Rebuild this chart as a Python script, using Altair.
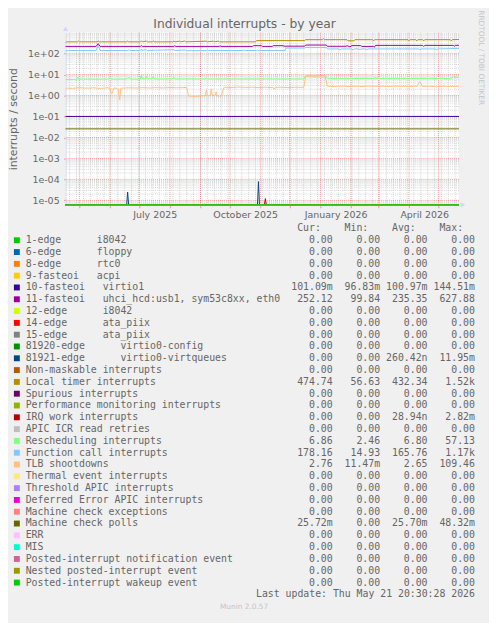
import altair as alt
import numpy as np
import pandas as pd

NBSP = "\u00a0"

# ---------------- data ----------------
START = "2025-04-16 20:30:28"
END = "2026-05-21 20:30:28"

LABELS = [
    "1-edge      i8042",
    "6-edge      floppy",
    "8-edge      rtc0",
    "9-fasteoi   acpi",
    "10-fasteoi   virtio1",
    "11-fasteoi   uhci_hcd:usb1, sym53c8xx, eth0",
    "12-edge      i8042",
    "14-edge      ata_piix",
    "15-edge      ata_piix",
    "81920-edge      virtio0-config",
    "81921-edge      virtio0-virtqueues",
    "Non-maskable interrupts",
    "Local timer interrupts",
    "Spurious interrupts",
    "Performance monitoring interrupts",
    "IRQ work interrupts",
    "APIC ICR read retries",
    "Rescheduling interrupts",
    "Function call interrupts",
    "TLB shootdowns",
    "Thermal event interrupts",
    "Threshold APIC interrupts",
    "Deferred Error APIC interrupts",
    "Machine check exceptions",
    "Machine check polls",
    "ERR",
    "MIS",
    "Posted-interrupt notification event",
    "Nested posted-interrupt event",
    "Posted-interrupt wakeup event",
]
COLORS = ["#00CC00", "#0066B3", "#FF8000", "#FFCC00", "#330099", "#990099",
          "#CCFF00", "#FF0000", "#808080", "#008F00", "#00487D", "#B35A00",
          "#B38F00", "#6B006B", "#8FB300", "#B30000", "#BEBEBE", "#80FF80",
          "#80C9FF", "#FFC080", "#FFE680", "#AA80FF", "#EE00CC", "#FF8080",
          "#666600", "#FFBFFF", "#00FFCC", "#CC6699", "#999900", "#00CC00"]

CUR = [0, 0, 0, 0, 0.10109, 252.12, 0, 0, 0, 0, 0, 0, 474.74, 0, 0, 0, 0,
       6.86, 178.16, 2.76, 0, 0, 0, 0, 0.02572, 0, 0, 0, 0, 0]
MIN = [0, 0, 0, 0, 0.09683, 99.84, 0, 0, 0, 0, 0, 0, 56.63, 0, 0, 0, 0,
       2.46, 14.93, 0.01147, 0, 0, 0, 0, 0, 0, 0, 0, 0, 0]
AVG = [0, 0, 0, 0, 0.10097, 235.35, 0, 0, 0, 0, 260.42e-9, 0, 432.34, 0, 0,
       28.94e-9, 0, 6.80, 165.76, 2.65, 0, 0, 0, 0, 0.02570, 0, 0, 0, 0, 0]
MAX = [0, 0, 0, 0, 0.14451, 627.88, 0, 0, 0, 0, 0.01195, 0, 1520, 0, 0,
       0.00282, 0, 57.13, 1170, 109.46, 0, 0, 0, 0, 0.04832, 0, 0, 0, 0, 0]

# Local timer interrupts
TIMER_DATES = ["2025-04-16 20:30", "2025-04-18", "2025-04-29", "2025-04-30", "2025-05-01",
               "2025-05-19", "2025-05-20", "2025-05-21", "2025-06-18", "2025-06-19",
               "2025-06-20", "2025-07-02", "2025-07-03", "2025-07-04", "2025-07-08",
               "2025-07-09", "2025-07-14", "2025-07-15", "2025-07-16", "2025-08-04",
               "2025-08-05", "2025-08-06", "2025-08-11", "2025-08-12", "2025-08-16",
               "2025-08-17", "2025-09-07", "2025-09-08", "2025-09-14", "2025-09-15",
               "2025-09-19", "2025-09-20", "2025-10-27", "2025-10-28", "2025-12-16",
               "2025-12-17", "2026-01-03", "2026-01-04", "2026-01-05", "2026-01-28",
               "2026-01-29", "2026-02-04", "2026-02-05", "2026-02-23", "2026-02-24",
               "2026-02-25", "2026-03-31", "2026-04-01", "2026-04-02", "2026-04-08",
               "2026-04-09", "2026-04-10", "2026-04-15", "2026-04-16", "2026-04-17",
               "2026-05-13", "2026-05-14", "2026-05-15", "2026-05-21 20:30"]
TIMER_VALUES = [330, 365, 365, 400, 365,
                365, 405, 365, 365, 395,
                365, 365, 410, 365, 400,
                365, 365, 400, 365, 365,
                400, 365, 395, 365, 400,
                365, 395, 365, 395, 365,
                395, 365, 365, 420, 420,
                465, 465, 520, 465, 465,
                410, 410, 465, 465, 410,
                465, 465, 410, 465, 465,
                410, 465, 465, 410, 465,
                465, 410, 465, 474.74]

# 11-fasteoi uhci_hcd:usb1, sym53c8xx, eth0
IRQ11_DATES = ["2025-04-16 20:30", "2025-05-18", "2025-05-20", "2025-05-22", "2025-07-02",
               "2025-07-03", "2025-07-04", "2025-08-05", "2025-08-06", "2025-08-07",
               "2025-09-20", "2025-09-21", "2025-09-22", "2025-10-24", "2025-10-25",
               "2025-11-02", "2025-11-03", "2025-11-13", "2025-11-14", "2025-11-24",
               "2025-11-25", "2025-12-16", "2025-12-17", "2026-01-07", "2026-01-08",
               "2026-01-27", "2026-01-28", "2026-01-31", "2026-02-02", "2026-02-11",
               "2026-02-12", "2026-02-24", "2026-02-25", "2026-02-26", "2026-04-15",
               "2026-04-16", "2026-04-17", "2026-05-16", "2026-05-17", "2026-05-18",
               "2026-05-21 20:30"]
IRQ11_VALUES = [222, 222, 300, 222, 222,
                240, 222, 222, 238, 222,
                222, 236, 222, 222, 240,
                240, 222, 222, 240, 240,
                228, 228, 258, 258, 225,
                225, 242, 210, 242, 242,
                222, 222, 205, 248, 248,
                222, 248, 248, 225, 248,
                252.12]

# Function call interrupts
FCALL_DATES = ["2025-04-16 20:30", "2025-04-20", "2025-05-18", "2025-05-20", "2025-05-22",
               "2025-06-19", "2025-06-20", "2025-06-21", "2025-07-02", "2025-07-03",
               "2025-07-04", "2025-07-08", "2025-07-09", "2025-08-05", "2025-08-06",
               "2025-08-17", "2025-08-18", "2025-09-07", "2025-09-08", "2025-09-09",
               "2025-10-15", "2025-10-16", "2025-10-17", "2025-10-28", "2025-10-29",
               "2025-10-30", "2025-11-26", "2025-11-27", "2025-12-16", "2025-12-17",
               "2026-01-07", "2026-01-08", "2026-01-20", "2026-01-21", "2026-01-22",
               "2026-02-02", "2026-02-03", "2026-02-04", "2026-02-09", "2026-02-10",
               "2026-02-11", "2026-02-16", "2026-02-17", "2026-02-18", "2026-04-11",
               "2026-04-12", "2026-04-13", "2026-04-28", "2026-04-29", "2026-04-30",
               "2026-05-21 20:30"]
FCALL_VALUES = [136, 142, 142, 255, 142,
                142, 152, 142, 142, 165,
                142, 155, 142, 155, 142,
                150, 138, 140, 155, 142,
                142, 152, 142, 142, 152,
                142, 142, 185, 185, 195,
                195, 168, 168, 150, 168,
                168, 150, 168, 168, 150,
                168, 168, 150, 168, 168,
                150, 168, 168, 150, 168,
                178.16]

# Rescheduling interrupts
RESCHED_DATES = ["2025-04-16 20:30", "2025-04-27", "2025-04-28", "2025-04-29", "2025-04-30",
                 "2025-05-31", "2025-06-01", "2025-06-02", "2025-06-18", "2025-06-19",
                 "2025-06-21", "2025-06-22", "2025-07-02", "2025-07-03", "2025-07-04",
                 "2025-07-07", "2025-07-08", "2025-07-09", "2025-07-14", "2025-07-15",
                 "2025-07-16", "2025-08-04", "2025-08-05", "2025-08-06", "2025-09-06",
                 "2025-09-07", "2025-09-08", "2025-12-15", "2025-12-17", "2026-01-06",
                 "2026-01-08", "2026-02-25", "2026-02-26", "2026-02-27", "2026-05-13",
                 "2026-05-16", "2026-05-21 20:30"]
RESCHED_VALUES = [5.8, 5.8, 5.2, 7.5, 6.1,
                  6.1, 7.2, 6.1, 6.1, 7.0,
                  7.2, 6.1, 6.1, 10.0, 6.3,
                  6.3, 8.2, 6.3, 6.3, 8.0,
                  6.2, 6.2, 7.4, 6.2, 6.2,
                  7.0, 6.2, 6.2, 8.9, 8.9,
                  6.6, 6.6, 7.6, 6.6, 6.6,
                  7.6, 7.4]

# TLB shootdowns
TLB_DATES = ["2025-04-16 20:30", "2025-04-18", "2025-04-24", "2025-05-01", "2025-05-08",
             "2025-05-15", "2025-05-22", "2025-05-29", "2025-06-01", "2025-06-02",
             "2025-06-03", "2025-06-05", "2025-06-09", "2025-06-11", "2025-06-12",
             "2025-06-20", "2025-06-27", "2025-07-04", "2025-07-11", "2025-07-18",
             "2025-07-25", "2025-08-01", "2025-08-08", "2025-08-15", "2025-08-18",
             "2025-08-20", "2025-08-27", "2025-09-03", "2025-09-06", "2025-09-07",
             "2025-09-08", "2025-09-11", "2025-09-12", "2025-09-13", "2025-09-16",
             "2025-09-17", "2025-09-18", "2025-09-22", "2025-09-25", "2025-10-02",
             "2025-10-09", "2025-10-16", "2025-10-23", "2025-10-30", "2025-11-06",
             "2025-11-14", "2025-11-15", "2025-11-16", "2025-11-23", "2025-11-30",
             "2025-12-07", "2025-12-15", "2025-12-17", "2026-01-06", "2026-01-08",
             "2026-01-15", "2026-01-22", "2026-01-29", "2026-02-05", "2026-02-12",
             "2026-02-19", "2026-02-26", "2026-03-05", "2026-03-12", "2026-03-19",
             "2026-03-26", "2026-04-02", "2026-04-09", "2026-04-12", "2026-04-15",
             "2026-04-22", "2026-04-29", "2026-05-06", "2026-05-13", "2026-05-21 20:30"]
TLB_VALUES = [2.1, 2.3, 2.2, 2.4, 2.25,
              2.35, 2.2, 2.35, 2.3, 1.3,
              1.25, 2.3, 2.2, 0.62, 2.25,
              2.35, 2.3, 2.4, 2.3, 2.4,
              2.3, 2.45, 2.35, 2.4, 2.45,
              0.95, 0.9, 1.0, 0.95, 1.9,
              1.0, 1.0, 2.1, 1.05, 1.0,
              1.5, 0.95, 0.95, 2.5, 2.4,
              2.55, 2.45, 2.5, 2.4, 2.5,
              2.4, 2.0, 2.45, 2.5, 2.4,
              2.5, 2.45, 8.0, 7.6, 2.8,
              2.7, 2.85, 2.7, 2.8, 2.7,
              2.85, 2.75, 2.8, 2.7, 2.8,
              2.75, 2.7, 2.8, 4.6, 2.7,
              2.8, 2.6, 2.8, 2.7, 2.76]

# 10-fasteoi virtio1 and Machine check polls (flat)
VIRTIO1_DATES = [START, END]
VIRTIO1_VALUES = [0.101, 0.101]
MCPOLL_DATES = [START, END]
MCPOLL_VALUES = [0.0257, 0.0257]

# 81921-edge virtio0-virtqueues (two short spikes)
VQ_DATES = [START, "2025-06-18", "2025-06-19", "2025-06-20",
            "2025-10-29", "2025-10-30", "2025-10-31", END]
VQ_VALUES = [0, 0, 2.45e-5, 0, 0, 7.8e-5, 0, 0]

# IRQ work interrupts (one spike)
IRQWORK_DATES = [START, "2025-11-05", "2025-11-06", "2025-11-07", END]
IRQWORK_VALUES = [0, 0, 1.2e-5, 0, 0]

ZERO_DATES = [START, END]
ZERO_VALUES = [0, 0]

SERIES = {
    4: (VIRTIO1_DATES, VIRTIO1_VALUES),
    5: (IRQ11_DATES, IRQ11_VALUES),
    10: (VQ_DATES, VQ_VALUES),
    12: (TIMER_DATES, TIMER_VALUES),
    15: (IRQWORK_DATES, IRQWORK_VALUES),
    17: (RESCHED_DATES, RESCHED_VALUES),
    18: (FCALL_DATES, FCALL_VALUES),
    19: (TLB_DATES, TLB_VALUES),
    24: (MCPOLL_DATES, MCPOLL_VALUES),
}

LAST_UPDATE = "Last update: Thu May 21 20:30:28 2026"
TITLE = "Individual interrupts - by year"
Y_TITLE = "interrupts / second"
WATERMARK = "RRDTOOL / TOBI OETIKER"
FOOTER = "Munin 2.0.57"

# ---------------- layout / style ----------------
W, H = 400, 175
DEC = 21.3                       # px per decade
YMAX = 1000.0
YMIN = 10 ** (3 - H / DEC)
FONT = "#666666"
AXISC = "#CFD6F8"
SANS = "DejaVu Sans"
MONO = "DejaVu Sans Mono"
CH = 6.02                        # mono char width at 10px


def to_dt(values):
    return pd.to_datetime(pd.Series(values), format="mixed")


def dt(ts):
    t = pd.Timestamp(ts)
    return alt.DateTime(year=t.year, month=t.month, date=t.day,
                        hours=t.hour, minutes=t.minute, seconds=t.second)


def xs():
    return alt.Scale(domain=[dt(START), dt(END)])


def ys():
    return alt.Scale(type="log", domain=[YMIN, YMAX], nice=False)


months = pd.date_range("2025-05-01", "2026-05-01", freq="MS")
weeks = pd.date_range("2025-04-21", "2026-05-18", freq="7D")
decades = [10.0 ** d for d in range(-5, 3)]
minors = [k * 10.0 ** d for d in range(-6, 3) for k in range(2, 10)
          if YMIN <= k * 10.0 ** d <= YMAX]

x_axis = alt.Axis(
    orient="bottom",
    values=[dt(m) for m in months],
    labelExpr="month(datum.value) % 3 == 0 ? timeFormat(datum.value, '%B %Y') : ''",
    labelOffset=15.5, labelOverlap=False, labelFlush=False,
    labelFont=SANS, labelFontSize=9.6, labelColor=FONT, labelPadding=2,
    tickSize=3, tickColor="#FF0000", tickOpacity=0.4,
    domainColor=AXISC, grid=False, title=None)

y_axis = alt.Axis(
    orient="left",
    values=decades,
    labelExpr="(datum.value >= 1 ? '1e+0' : '1e-0') + abs(round(log(datum.value) / LN10))",
    labelOverlap=False, labelFont=SANS, labelFontSize=9.6, labelColor=FONT,
    labelPadding=4.5, tickSize=2, tickColor="#FF0000", tickOpacity=0.4,
    domainColor=AXISC, grid=False,
    title=Y_TITLE, titleFont=SANS, titleFontSize=11, titleFontWeight="normal",
    titleColor=FONT, titleX=-52.5, titleY=H / 2, titleAngle=270,
    titleAlign="center", titleBaseline="middle")

layers = []

layers.append(alt.Chart(pd.DataFrame({"date": weeks})).mark_rule(
    color="#BABABA", opacity=0.6, strokeDash=[1, 1], strokeWidth=1
).encode(x=alt.X("date:T", scale=xs(), axis=x_axis)))

layers.append(alt.Chart(pd.DataFrame({"v": minors})).mark_rule(
    color="#BABABA", opacity=0.6, strokeDash=[1, 1], strokeWidth=1
).encode(y=alt.Y("v:Q", scale=ys(), axis=y_axis)))

layers.append(alt.Chart(pd.DataFrame({"date": months})).mark_rule(
    color="#FF0000", opacity=0.38, strokeDash=[1, 1], strokeWidth=1
).encode(x=alt.X("date:T", scale=xs(), axis=None)))

layers.append(alt.Chart(pd.DataFrame({"v": decades})).mark_rule(
    color="#FF0000", opacity=0.38, strokeDash=[1, 1], strokeWidth=1
).encode(y=alt.Y("v:Q", scale=ys(), axis=None)))

for i, color in enumerate(COLORS):
    dates, vals = SERIES.get(i, (ZERO_DATES, ZERO_VALUES))
    df = pd.DataFrame({"date": to_dt(dates).values, "value": vals})
    df["plotted"] = np.maximum(df["value"], YMIN)
    layers.append(
        alt.Chart(df).mark_line(color=color, strokeWidth=1).encode(
            x=alt.X("date:T", scale=xs(), axis=None),
            y=alt.Y("plotted:Q", scale=ys(), axis=None),
        )
    )

arrow_df = pd.DataFrame({
    "date": [pd.Timestamp(START), pd.Timestamp(END) + pd.Timedelta(days=4)],
    "v": [10 ** (3 + 4 / DEC), YMIN],
    "shape": ["triangle-up", "triangle-right"],
})
layers.append(alt.Chart(arrow_df).mark_point(filled=True, size=28, color=AXISC, opacity=1).encode(
    x=alt.X("date:T", scale=xs(), axis=None),
    y=alt.Y("v:Q", scale=ys(), axis=None),
    shape=alt.Shape("shape:N", scale=None),
))

# ---------------- legend / annotations ----------------


def rrd_fmt(v):
    if v == 0:
        return "0.00" + NBSP
    e = int(np.floor(np.log10(abs(v)) / 3) * 3)
    prefix = {-9: "n", -6: "u", -3: "m", 0: NBSP, 3: "k"}[e]
    return f"{v / 10.0 ** e:.2f}{prefix}"


ROW0 = 199.0      # header row centre, px below plot top
ROWH = 12.0
X_BOX = -49.5
X_NAME = -40.5
EDGES = [271.6, 319.8, 368.0, 416.2]


def axs():
    return alt.Scale(domain=[0, W], nice=False, zero=False)


def ays():
    return alt.Scale(domain=[0, H], reverse=True, nice=False, zero=False)


leg = pd.DataFrame({
    "label": [s.replace(" ", NBSP) for s in LABELS],
    "color": COLORS,
    "y": [ROW0 + ROWH * (k + 1) for k in range(len(LABELS))],
})
leg["xb"] = X_BOX
leg["xn"] = X_NAME

cells = []
for k in range(len(LABELS)):
    for j, col in enumerate([CUR, MIN, AVG, MAX]):
        cells.append({"x": EDGES[j], "y": ROW0 + ROWH * (k + 1), "t": rrd_fmt(col[k])})
for j, h in enumerate(["Cur:", "Min:", "Avg:", "Max:"]):
    cells.append({"x": EDGES[j] - 2 * CH, "y": ROW0, "t": h})
cells.append({"x": EDGES[3], "y": ROW0 + ROWH * (len(LABELS) + 1), "t": LAST_UPDATE})
cells_df = pd.DataFrame(cells)

layers.append(alt.Chart(leg).mark_square(size=36, opacity=1).encode(
    x=alt.X("xb:Q", scale=axs(), axis=None),
    y=alt.Y("y:Q", scale=ays(), axis=None),
    color=alt.Color("color:N", scale=None),
))
layers.append(alt.Chart(leg).mark_text(align="left", baseline="middle", font=MONO,
                                       fontSize=10, color=FONT).encode(
    x=alt.X("xn:Q", scale=axs(), axis=None),
    y=alt.Y("y:Q", scale=ays(), axis=None),
    text="label:N",
))
layers.append(alt.Chart(cells_df).mark_text(align="right", baseline="middle", font=MONO,
                                            fontSize=10, color=FONT).encode(
    x=alt.X("x:Q", scale=axs(), axis=None),
    y=alt.Y("y:Q", scale=ays(), axis=None),
    text="t:N",
))

title_df = pd.DataFrame({"x": [182.0], "y": [-4.9], "t": [TITLE]})
layers.append(alt.Chart(title_df).mark_text(align="center", baseline="alphabetic", font=SANS,
                                            fontSize=12.5, color=FONT).encode(
    x=alt.X("x:Q", scale=axs(), axis=None),
    y=alt.Y("y:Q", scale=ays(), axis=None),
    text="t:N",
))
wm_df = pd.DataFrame({"x": [422.0], "y": [25.4], "t": [WATERMARK]})
layers.append(alt.Chart(wm_df).mark_text(align="center", baseline="middle", font=SANS,
                                         fontSize=7.5, color="#C4C4C4", angle=90).encode(
    x=alt.X("x:Q", scale=axs(), axis=None),
    y=alt.Y("y:Q", scale=ays(), axis=None),
    text="t:N",
))
foot_df = pd.DataFrame({"x": [181.5], "y": [584.0], "t": [FOOTER]})
layers.append(alt.Chart(foot_df).mark_text(align="center", baseline="middle", font=SANS,
                                           fontSize=7.5, color="#C4C4C4").encode(
    x=alt.X("x:Q", scale=axs(), axis=None),
    y=alt.Y("y:Q", scale=ays(), axis=None),
    text="t:N",
))

chart = alt.layer(*layers).resolve_scale(
    x="independent", y="independent"
).properties(
    width=W, height=H,
    padding={"left": 58.5, "top": 20, "right": 30.5, "bottom": 420},
    autosize=alt.AutoSizeParams(type="none"),
    background="#F0F0F0",
).configure_view(stroke=None, fill="#FFFFFF")

chart.save("out.html", embed_options={"renderer": "svg", "actions": False})
